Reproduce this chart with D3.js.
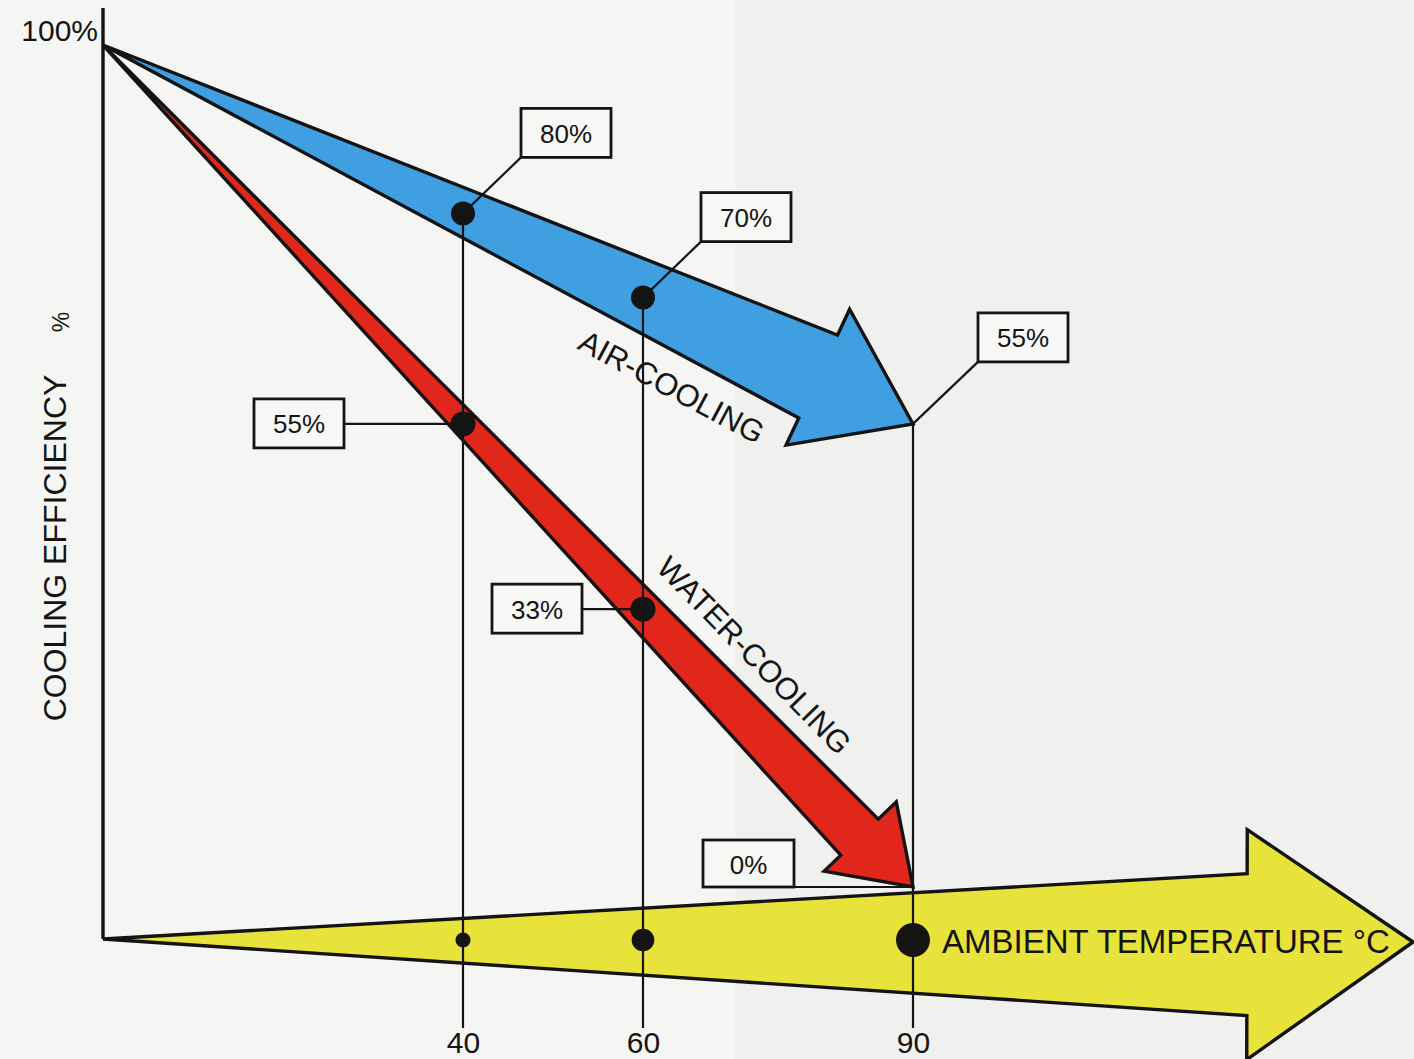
<!DOCTYPE html>
<html>
<head>
<meta charset="utf-8">
<script src="https://cdn.jsdelivr.net/npm/d3@7/dist/d3.min.js"></script>
<style>
  html, body { margin: 0; padding: 0; background: #f4f4f2; }
  svg { display: block; }
</style>
</head>
<body>
<svg id="chart" width="1414" height="1059"></svg>
<script>
// Ambient temperatures (°C) at which the efficiencies are marked
const temps = [40, 60, 90];
// Cooling efficiency (%) at those temperatures
const airEfficiency = [80, 70, 55];
const waterEfficiency = [55, 33, 0];
// Both methods start from full efficiency at 0 °C
const startTemp = 0;
const startEfficiency = 100;
// Text
const yTopLabel = "100%";
const yAxisTitle = "COOLING EFFICIENCY";
const yAxisUnit = "%";
const xAxisTitle = "AMBIENT TEMPERATURE °C";
const airName = "AIR-COOLING";
const waterName = "WATER-COOLING";

const W = 1414, H = 1059;
const FONT = "'Liberation Sans', Arial, Helvetica, sans-serif";
const INK = "#141414";
const svg = d3.select("#chart");

// paper tone, slightly greyer on the right
svg.append("rect").attr("width", W).attr("height", H).attr("fill", "#f5f5f3");
svg.append("rect").attr("x", 735).attr("y", 0).attr("width", W - 735).attr("height", H)
  .attr("fill", "#f0f0ee");

const x = d3.scaleLinear().domain([0, 90]).range([103, 913]);
const y = d3.scaleLinear().domain([0, 100]).range([887, 45]);
const axisY = 939;          // baseline of the temperature arrow
const guideBottom = 1028;   // where the temperature guides end
const dotR = d3.scaleLinear().domain([0, 90]).range([0, 17]);

// Tapered arrow: a point at the start that widens to a barbed head at the tip
function arrowPoints(ax, ay, tx, ty, s) {
  const dx = tx - ax, dy = ty - ay, L = Math.hypot(dx, dy);
  const ux = dx / L, uy = dy / L;
  const nx = uy, ny = -ux;                    // normal on the "upper" side
  const bx = tx - ux * s.headLen, by = ty - uy * s.headLen;
  const p = w => [bx + nx * w, by + ny * w];
  return [[ax, ay], p(s.shaftUp), p(s.headUp), [tx, ty], p(-s.headLo), p(-s.shaftLo)];
}
function frame(ax, ay, tx, ty) {
  const dx = tx - ax, dy = ty - ay, L = Math.hypot(dx, dy);
  const ux = dx / L, uy = dy / L;
  return { L, ux, uy, nx: uy, ny: -ux, angle: Math.atan2(dy, dx) * 180 / Math.PI,
    at: (t, off) => [ax + ux * L * t + uy * off, ay + uy * L * t - ux * off] };
}
const line = d3.line().curve(d3.curveLinearClosed);

const origin = [x(startTemp), y(startEfficiency)];
const lastT = temps[temps.length - 1];
const airTip = [x(lastT), y(airEfficiency[airEfficiency.length - 1])];
const waterTip = [x(lastT), y(waterEfficiency[waterEfficiency.length - 1])];

// temperature arrow (x axis)
svg.append("path")
  .attr("d", line(arrowPoints(x(0), axisY, 1413, axisY + 3,
    { headLen: 166, shaftUp: 68, shaftLo: 74, headUp: 112, headLo: 118 })))
  .attr("fill", "#e8e33b").attr("stroke", INK).attr("stroke-width", 3.4)
  .attr("stroke-linejoin", "miter");

// efficiency axis
svg.append("line").attr("x1", x(0)).attr("x2", x(0)).attr("y1", 8).attr("y2", axisY)
  .attr("stroke", INK).attr("stroke-width", 3.4);

// water-cooling arrow
svg.append("path")
  .attr("d", line(arrowPoints(origin[0], origin[1], waterTip[0], waterTip[1],
    { headLen: 73, shaftUp: 22, shaftLo: 30, headUp: 47, headLo: 53 })))
  .attr("fill", "#e1261c").attr("stroke", INK).attr("stroke-width", 3.4)
  .attr("stroke-linejoin", "miter");

// air-cooling arrow
svg.append("path")
  .attr("d", line(arrowPoints(origin[0], origin[1], airTip[0], airTip[1],
    { headLen: 106, shaftUp: 48.5, shaftLo: 43, headUp: 77, headLo: 73 })))
  .attr("fill", "#3f9fe0").attr("stroke", INK).attr("stroke-width", 3.4)
  .attr("stroke-linejoin", "miter");

// arrow names set along the arrows
const airF = frame(origin[0], origin[1], airTip[0], airTip[1]);
const waterF = frame(origin[0], origin[1], waterTip[0], waterTip[1]);
const airPos = airF.at(0.738, -69);
svg.append("text").text(airName)
  .attr("transform", `translate(${airPos[0]},${airPos[1]}) rotate(${airF.angle + 3})`)
  .attr("text-anchor", "middle").attr("dominant-baseline", "central")
  .attr("font-family", FONT).attr("font-size", 31).attr("fill", INK);
const waterPos = waterF.at(0.763, 46);
svg.append("text").text(waterName)
  .attr("transform", `translate(${waterPos[0]},${waterPos[1]}) rotate(${waterF.angle - 0.5})`)
  .attr("text-anchor", "middle").attr("dominant-baseline", "central")
  .attr("font-family", FONT).attr("font-size", 31).attr("fill", INK);

// vertical guides from the air-cooling values down past the temperature arrow
svg.append("g").selectAll("line").data(temps).join("line")
  .attr("x1", d => x(d)).attr("x2", d => x(d))
  .attr("y1", (d, i) => y(airEfficiency[i])).attr("y2", guideBottom)
  .attr("stroke", INK).attr("stroke-width", 2.2);

// dots on the temperature arrow, growing with temperature
svg.append("g").selectAll("circle").data(temps).join("circle")
  .attr("cx", d => x(d)).attr("cy", axisY + 1).attr("r", d => dotR(d)).attr("fill", INK);

// callout boxes
function callout(px, py, label, box, lead) {
  const g = svg.append("g");
  g.append("polyline").attr("points", lead.map(p => p.join(",")).join(" "))
    .attr("fill", "none").attr("stroke", INK).attr("stroke-width", 2.2);
  g.append("rect").attr("x", box.x).attr("y", box.y).attr("width", box.w).attr("height", box.h)
    .attr("fill", "#f7f7f5").attr("stroke", INK).attr("stroke-width", 2.8);
  g.append("text").text(label)
    .attr("x", box.x + box.w / 2).attr("y", box.y + box.h / 2 + 1)
    .attr("text-anchor", "middle").attr("dominant-baseline", "central")
    .attr("font-family", FONT).attr("font-size", 26).attr("fill", INK);
}
const pct = v => `${v}%`;

// air-cooling values: boxes up and to the right
temps.forEach((t, i) => {
  const px = x(t), py = y(airEfficiency[i]);
  const bx = px + (i === 2 ? 65 : 58), by = py - (i === 2 ? 62 : 56);
  callout(px, py, pct(airEfficiency[i]), { x: bx, y: by - 49, w: 90, h: 49 },
    [[bx, by], [px, py]]);
});
// water-cooling values: boxes to the left
temps.forEach((t, i) => {
  const px = x(t), py = y(waterEfficiency[i]);
  if (i === 2) {
    const bx = px - 210;
    callout(px, py, pct(waterEfficiency[i]), { x: bx, y: py - 47, w: 91, h: 47 },
      [[bx + 91, py], [px, py]]);
  } else {
    const gap = i === 0 ? 119 : 61;
    const bx = px - gap - 90;
    callout(px, py, pct(waterEfficiency[i]), { x: bx, y: py - 25, w: 90, h: 49 },
      [[bx + 90, py], [px, py]]);
  }
});

// value dots (drawn above the guides)
svg.append("g").selectAll("circle").data(temps.slice(0, 2)).join("circle")
  .attr("cx", d => x(d)).attr("cy", (d, i) => y(airEfficiency[i])).attr("r", 12).attr("fill", INK);
svg.append("g").selectAll("circle").data(temps.slice(0, 2)).join("circle")
  .attr("cx", d => x(d)).attr("cy", (d, i) => y(waterEfficiency[i])).attr("r", 12.5).attr("fill", INK);

// temperature tick labels
const xAxis = d3.axisBottom(x).tickValues(temps).tickSize(0).tickPadding(0)
  .tickFormat(d3.format("d"));
const gx = svg.append("g").attr("transform", `translate(0,1032)`).call(xAxis);
gx.select(".domain").remove();
gx.selectAll("text").attr("font-family", FONT).attr("font-size", 30).attr("fill", INK);

// axis titles
svg.append("text").text(xAxisTitle)
  .attr("x", x(90) + 29).attr("y", axisY + 14)
  .attr("font-family", FONT).attr("font-size", 33).attr("fill", INK);
svg.append("text").text(yTopLabel)
  .attr("x", 98).attr("y", 41).attr("text-anchor", "end")
  .attr("font-family", FONT).attr("font-size", 30).attr("fill", INK);
svg.append("text").text(yAxisTitle)
  .attr("transform", "translate(55,548) rotate(-90)")
  .attr("text-anchor", "middle").attr("dominant-baseline", "central")
  .attr("font-family", FONT).attr("font-size", 32).attr("fill", INK);
svg.append("text").text(yAxisUnit)
  .attr("transform", "translate(61,322) rotate(-90)")
  .attr("text-anchor", "middle").attr("dominant-baseline", "central")
  .attr("font-family", FONT).attr("font-size", 23).attr("fill", INK);
</script>
</body>
</html>
